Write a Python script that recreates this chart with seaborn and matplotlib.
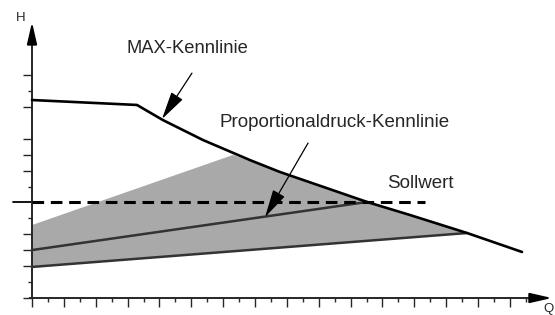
import numpy as np
import pandas as pd
import seaborn as sns
import matplotlib.pyplot as plt
from matplotlib.patches import Polygon, ArrowStyle

# pump curves, Q in tick units, H in tick units
max_q = [0, 6.59, 8.22, 10.73, 13.68, 15.57, 21.03, 23.73, 27.31, 30.76]
max_h = [12.43, 12.12, 11.17, 9.92, 8.66, 7.91, 6.03, 5.21, 4.08, 2.89]

prop_q = [0, 21.03]
prop_h = [3.01, 6.03]
low_q = [0, 27.31]
low_h = [1.95, 4.08]

band_q = [0, 12.62, 15.57, 21.03, 23.73, 27.31, 0]
band_h = [4.58, 8.98, 7.91, 6.03, 5.21, 4.08, 1.95]

sollwert_h = 6.03
sollwert_end = 24.67

x_major = list(range(0, 31, 2))
x_minor = list(range(1, 32, 2))
y_major = [0, 2, 3, 4, 8, 9, 10, 12, 14]
y_minor = [1, 5, 7, 13]

sns.set_theme(style="ticks")
plt.rcParams["font.family"] = ["Liberation Sans", "DejaVu Sans"]

fig = plt.figure(figsize=(5.55, 3.15), dpi=100)
ax = fig.add_axes([0, 0, 1, 1])
ax.set_xlim(-2.009, 32.83)
ax.set_ylim(-1.067, 18.71)

# grey operating range
ax.add_patch(Polygon(list(zip(band_q, band_h)), closed=True,
                     facecolor="#a9a9a9", edgecolor="none", zorder=1))

df_max = pd.DataFrame({"Q": max_q, "H": max_h})
sns.lineplot(data=df_max, x="Q", y="H", sort=False, estimator=None,
             color="black", linewidth=1.9, ax=ax, zorder=4)
sns.lineplot(x=prop_q, y=prop_h, sort=False, estimator=None,
             color="#333333", linewidth=1.8, ax=ax, zorder=3)
sns.lineplot(x=low_q, y=low_h, sort=False, estimator=None,
             color="#333333", linewidth=1.8, ax=ax, zorder=3)

# setpoint
ax.plot([0, sollwert_end], [sollwert_h, sollwert_h], color="black",
        linewidth=2.2, dashes=(3.8, 2.2), solid_capstyle="butt",
        dash_capstyle="butt", zorder=5)
ax.plot([-1.19, 0], [sollwert_h, sollwert_h], color="black", linewidth=1.3)

# axes
for s in ["top", "right"]:
    ax.spines[s].set_visible(False)
ax.spines["left"].set_position(("data", 0))
ax.spines["bottom"].set_position(("data", 0))
ax.spines["left"].set_bounds(0, 16.6)
ax.spines["bottom"].set_bounds(-0.1, 31.9)
ax.spines["left"].set_linewidth(1.4)
ax.spines["bottom"].set_linewidth(1.4)
ax.set_xticks(x_major)
ax.set_xticks(x_minor, minor=True)
ax.set_yticks(y_major)
ax.set_yticks(y_minor, minor=True)
ax.tick_params(which="major", direction="out", length=6.2, width=1.0,
               labelbottom=False, labelleft=False, bottom=True, left=True)
ax.tick_params(which="minor", direction="out", length=3.2, width=1.0,
               bottom=True, left=True)
ax.set_xlabel("")
ax.set_ylabel("")

axis_head = ArrowStyle("-|>", head_length=1.1, head_width=0.25)
ax.annotate("", xy=(0, 17.33), xytext=(0, 16.0),
            arrowprops=dict(arrowstyle=axis_head, color="black", lw=1.4,
                            shrinkA=0, shrinkB=0))
ax.annotate("", xy=(32.64, 0), xytext=(31.5, 0),
            arrowprops=dict(arrowstyle=axis_head, color="black", lw=1.4,
                            shrinkA=0, shrinkB=0))

ax.text(-0.72, 17.61, "H", fontsize=9.5, ha="center", va="center")
ax.text(32.45, -0.66, "Q", fontsize=9.5, ha="center", va="center")

# labels with pointers
pointer = ArrowStyle("-|>", head_length=1.45, head_width=0.35)
ax.text(9.73, 15.69, "MAX-Kennlinie", fontsize=13.2, ha="center", va="center")
ax.annotate("", xy=(8.16, 11.24), xytext=(10.04, 14.12),
            arrowprops=dict(arrowstyle=pointer, color="black", lw=0.9,
                            shrinkA=0, shrinkB=0))
ax.text(19.02, 10.99, "Proportionaldruck-Kennlinie", fontsize=13.5,
        ha="center", va="center")
ax.annotate("", xy=(14.63, 5.08), xytext=(17.33, 9.73),
            arrowprops=dict(arrowstyle=pointer, color="black", lw=0.9,
                            shrinkA=0, shrinkB=0))
ax.text(24.36, 7.22, "Sollwert", fontsize=13.5, ha="center", va="center")

fig.savefig("out.png", dpi=100)
